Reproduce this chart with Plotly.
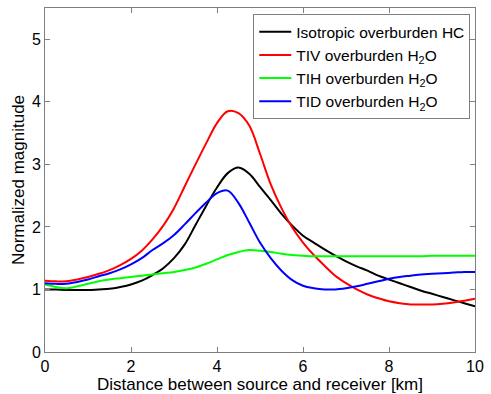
import plotly.graph_objects as go

distance_km = [0, 0.25, 0.5, 0.75, 1.0, 1.25, 1.5, 1.75, 2.0, 2.25, 2.5, 2.75, 3.0, 3.25, 3.5, 3.75,
               4.0, 4.25, 4.5, 4.75, 5.0, 5.25, 5.5, 5.75, 6.0, 6.25, 6.5, 6.75, 7.0, 7.25, 7.5, 7.75,
               8.0, 8.25, 8.5, 8.75, 9.0, 9.25, 9.5, 9.75, 10.0]

iso_hc = [1.00, 1.00, 0.99, 0.99, 0.99, 1.00, 1.01, 1.04, 1.08, 1.14, 1.23, 1.34, 1.50, 1.72, 2.03, 2.34,
          2.63, 2.86, 2.95, 2.85, 2.64, 2.43, 2.21, 2.02, 1.86, 1.75, 1.64, 1.54, 1.45, 1.37, 1.30, 1.22,
          1.16, 1.10, 1.04, 0.98, 0.93, 0.88, 0.83, 0.78, 0.73]

tiv_h2o = [1.14, 1.13, 1.13, 1.16, 1.20, 1.25, 1.31, 1.39, 1.49, 1.62, 1.80, 2.02, 2.30, 2.65, 3.00, 3.34,
           3.66, 3.85, 3.82, 3.62, 3.17, 2.68, 2.30, 1.99, 1.75, 1.55, 1.38, 1.22, 1.10, 1.00, 0.92, 0.86,
           0.81, 0.78, 0.76, 0.76, 0.76, 0.77, 0.79, 0.82, 0.85]

tih_h2o = [1.08, 1.04, 1.02, 1.05, 1.09, 1.13, 1.16, 1.18, 1.20, 1.22, 1.24, 1.26, 1.28, 1.31, 1.35, 1.41,
           1.48, 1.55, 1.60, 1.63, 1.62, 1.60, 1.57, 1.55, 1.54, 1.53, 1.53, 1.53, 1.53, 1.53, 1.53, 1.53,
           1.53, 1.53, 1.53, 1.53, 1.54, 1.54, 1.54, 1.54, 1.54]

tid_h2o = [1.10, 1.09, 1.09, 1.12, 1.16, 1.21, 1.26, 1.32, 1.40, 1.50, 1.63, 1.74, 1.87, 2.04, 2.22, 2.39,
           2.54, 2.58, 2.38, 2.07, 1.75, 1.50, 1.30, 1.15, 1.06, 1.02, 1.00, 1.00, 1.02, 1.05, 1.09, 1.13,
           1.17, 1.20, 1.22, 1.24, 1.25, 1.26, 1.27, 1.28, 1.28]

x_ticks = [0, 2, 4, 6, 8, 10]
y_ticks = [0, 1, 2, 3, 4, 5]

series = [
    ("Isotropic overburden HC", iso_hc, "#000000"),
    ("TIV overburden H<sub>2</sub>O", tiv_h2o, "#ff0000"),
    ("TIH overburden H<sub>2</sub>O", tih_h2o, "#00ff00"),
    ("TID overburden H<sub>2</sub>O", tid_h2o, "#0000ff"),
]

FONT = "Liberation Sans"

fig = go.Figure()
for name, vals, col in series:
    fig.add_trace(go.Scatter(x=distance_km, y=vals, mode="lines", name=name,
                             line=dict(color=col, width=2, shape="spline", smoothing=1.0)))

axis_common = dict(showline=True, linecolor="#7f7f7f", linewidth=1, mirror="ticks",
                   ticks="inside", ticklen=5, tickcolor="#7f7f7f", showgrid=False, zeroline=False,
                   ticklabeloverflow="allow",
                   tickfont=dict(family=FONT, size=16, color="black"))

fig.update_layout(
    width=491, height=394,
    margin=dict(l=45, r=8, t=7, b=42),
    paper_bgcolor="white", plot_bgcolor="white",
    font=dict(family=FONT, size=16, color="black"),
    xaxis=dict(range=[0, 10], tickvals=x_ticks,
               title=dict(text="Distance between source and receiver [km]",
                          font=dict(family=FONT, size=17), standoff=0),
               **axis_common),
    yaxis=dict(range=[0, 5.5], tickvals=y_ticks,
               title=dict(text="Normalized magnitude", font=dict(family=FONT, size=17), standoff=2),
               **axis_common),
    legend=dict(x=0.989, y=0.982, xanchor="right", yanchor="top",
                bordercolor="#7f7f7f", borderwidth=1, bgcolor="white",
                font=dict(family=FONT, size=15.5), tracegroupgap=0, itemwidth=32),
    showlegend=True,
)

fig.write_html("out.html")
